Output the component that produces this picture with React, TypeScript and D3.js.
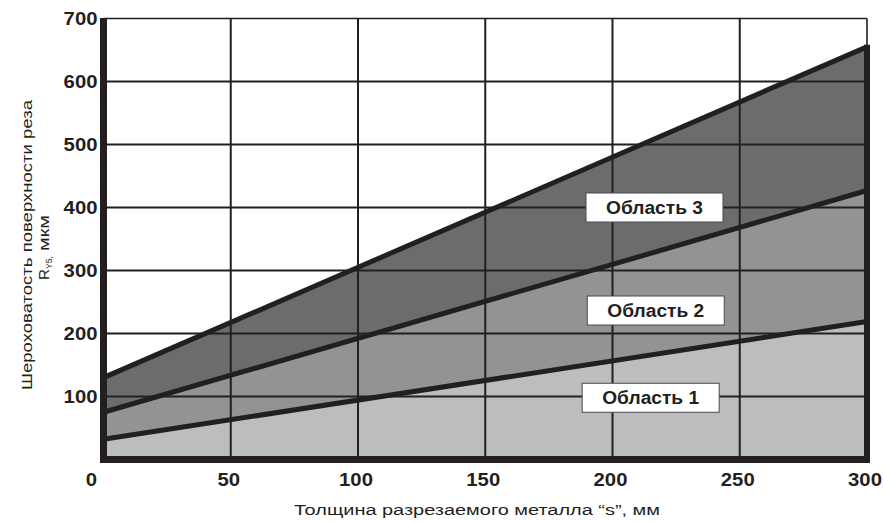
import React from "react";
import * as d3 from "d3";

const xTicks = [0, 50, 100, 150, 200, 250, 300];
const yTicks = [0, 100, 200, 300, 400, 500, 600, 700];
const gridX = [50, 100, 150, 200, 250];
const gridY = [100, 200, 300, 400, 500, 600, 700];

const thickness = [0, 300];
const line1 = [32, 219];
const line2 = [75, 427];
const line3 = [130, 655];

const regionLabels = ["Область 1", "Область 2", "Область 3"];
const labelX = [215, 217, 216.5];
const labelY = [98, 236.5, 400];

const xTitle = "Толщина разрезаемого металла “s”, мм";
const yTitle1 = "Шероховатость поверхности реза";

const W = 884;
const H = 522;
const ink = "#231f20";
const fills = ["#bcbdbf", "#929395", "#6b6c6e"];
const font = "'Liberation Sans', Arial, Helvetica, sans-serif";

export default function App() {
  const x = d3.scaleLinear().domain([0, 300]).range([103.5, 867]);
  const y = d3.scaleLinear().domain([0, 700]).range([459.5, 18.5]);

  const base = thickness.map(() => 0);
  const layers = [
    [base, line1],
    [line1, line2],
    [line2, line3],
  ];

  const makeArea = (lo: number[], hi: number[]) =>
    d3
      .area<number>()
      .x((t) => x(t))
      .y0((_, i) => y(lo[i]))
      .y1((_, i) => y(hi[i]))(thickness) || "";

  const makeLine = (vals: number[]) =>
    d3
      .line<number>()
      .x((t) => x(t))
      .y((_, i) => y(vals[i]))(thickness) || "";

  const tickLen = (v: number) => String(v).length * 11.3;

  return (
    <svg
      width={W}
      height={H}
      viewBox={`0 0 ${W} ${H}`}
      style={{ position: "absolute", left: 0, top: 0, background: "#fff" }}
      fontFamily={font}
    >
      {layers.map((l, i) => (
        <path key={i} d={makeArea(l[0], l[1])} fill={fills[i]} />
      ))}
      {gridX.map((v) => (
        <line
          key={"gx" + v}
          x1={x(v)}
          x2={x(v)}
          y1={y(700)}
          y2={y(0)}
          stroke={ink}
          strokeWidth={2}
        />
      ))}
      {gridY.map((v) => (
        <line
          key={"gy" + v}
          x1={x(0)}
          x2={x(300)}
          y1={y(v)}
          y2={y(v)}
          stroke={ink}
          strokeWidth={v === 700 ? 1.6 : 2}
        />
      ))}
      <line x1={x(300)} x2={x(300)} y1={y(700)} y2={y(line3[1])} stroke={ink} strokeWidth={1.6} />
      <line x1={x(300)} x2={x(300)} y1={y(line3[1]) - 2} y2={y(0) + 3.5} stroke={ink} strokeWidth={6} />
      {[line1, line2, line3].map((l, i) => (
        <path key={"l" + i} d={makeLine(l)} stroke={ink} strokeWidth={5} fill="none" />
      ))}
      <line x1={x(0)} x2={x(0)} y1={y(700) - 0.5} y2={y(0) + 3.5} stroke={ink} strokeWidth={7} />
      <line x1={x(0) - 3.5} x2={x(300) + 3} y1={y(0)} y2={y(0)} stroke={ink} strokeWidth={7} />

      {regionLabels.map((t, i) => {
        const cx = x(labelX[i]);
        const cy = y(labelY[i]);
        return (
          <g key={t}>
            <rect
              x={cx - 68.5}
              y={cy - 14.5}
              width={137}
              height={29}
              fill="#fff"
              stroke="#4a4a4c"
              strokeWidth={1}
            />
            <text
              x={cx}
              y={cy + 6.5}
              textAnchor="middle"
              fontSize={18}
              fontWeight="bold"
              fill={ink}
              textLength={97}
              lengthAdjust="spacingAndGlyphs"
            >
              {t}
            </text>
          </g>
        );
      })}

      {yTicks
        .filter((v) => v > 0)
        .map((v) => (
          <text
            key={"yt" + v}
            x={97.5 - tickLen(v) / 2}
            y={y(v) + 6.5}
            textAnchor="middle"
            fontSize={18}
            fontWeight="bold"
            fill={ink}
            textLength={tickLen(v)}
            lengthAdjust="spacingAndGlyphs"
          >
            {v}
          </text>
        ))}
      {xTicks.map((v) => (
        <text
          key={"xt" + v}
          x={v === 0 ? 91.5 : x(v) - 2}
          y={486}
          textAnchor="middle"
          fontSize={18}
          fontWeight="bold"
          fill={ink}
          textLength={tickLen(v)}
          lengthAdjust="spacingAndGlyphs"
        >
          {v}
        </text>
      ))}

      <text
        x={477}
        y={515}
        textAnchor="middle"
        fontSize={15.5}
        fill={ink}
        textLength={366}
        lengthAdjust="spacingAndGlyphs"
      >
        {xTitle}
      </text>
      <g transform="translate(32,245) rotate(-90)">
        <text
          x={0}
          y={0}
          textAnchor="middle"
          fontSize={15.5}
          fill={ink}
          textLength={290}
          lengthAdjust="spacingAndGlyphs"
        >
          {yTitle1}
        </text>
      </g>
      <g transform="translate(49,244) rotate(-90)">
        <text x={-36} y={0} fontSize={15.5} fill={ink}>
          <tspan textLength={11} lengthAdjust="spacingAndGlyphs">R</tspan>
          <tspan fontSize={9.5} dy={2.5} textLength={13} lengthAdjust="spacingAndGlyphs">Y5,</tspan>
          <tspan dy={-2.5} dx={5} textLength={36} lengthAdjust="spacingAndGlyphs">мкм</tspan>
        </text>
      </g>
    </svg>
  );
}
